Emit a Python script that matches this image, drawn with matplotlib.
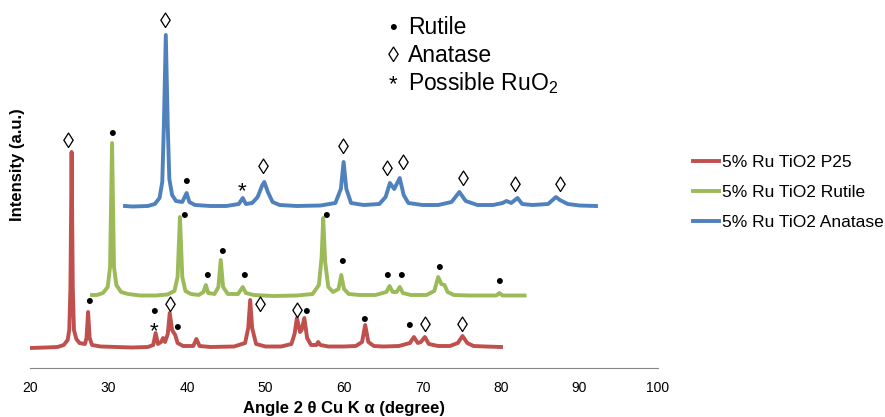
import matplotlib
matplotlib.use("Agg")
import matplotlib.pyplot as plt

plt.rcParams['font.family'] = ['Liberation Sans', 'DejaVu Sans']
plt.rcParams['mathtext.fontset'] = 'custom'
plt.rcParams['mathtext.rm'] = 'Liberation Sans'
plt.rcParams['mathtext.it'] = 'Liberation Sans'

# --- data (intensity above each trace's own baseline, a.u.) ---
p25_x = [20.0, 22.0, 23.5, 24.3, 24.8, 25.0, 25.15, 25.3, 25.45, 25.6, 25.9, 26.3, 27.0, 27.2,
         27.4, 27.6, 27.9, 29.0, 31.0, 33.0, 35.0, 35.7, 36.0, 36.3, 36.7, 36.95, 37.2, 37.55,
         37.8, 38.1, 38.5, 38.8, 39.5, 40.8, 41.2, 41.6, 43.0, 46.0, 47.4, 47.8, 48.05, 48.3,
         48.8, 50.0, 52.0, 53.3, 53.7, 54.0, 54.4, 54.6, 54.95, 55.3, 55.8, 56.5, 56.7, 57.0,
         58.0, 60.0, 61.5, 62.3, 62.7, 63.1, 63.8, 65.0, 67.0, 68.4, 68.9, 69.4, 69.8, 70.3,
         70.8, 72.0, 73.5, 74.5, 75.1, 75.7, 76.5, 78.0, 80.0]
p25_y = [0, 0.5, 1, 3, 8, 18, 60, 196, 60, 18, 9, 5, 4, 10,
         36, 10, 3, 1.5, 1, 0.5, 1, 3, 15, 4, 6, 10, 6, 14,
         35, 18, 13, 5, 2, 2, 9, 2, 1, 1.5, 5, 20, 48, 20,
         4, 1.5, 1.5, 4, 14, 30, 16, 18, 30, 10, 3, 3, 6, 3,
         1.5, 1.5, 2, 6, 23, 6, 2, 1.5, 2, 5, 11, 5, 6, 11,
         4, 2, 2, 5, 12, 5, 2, 1.5, 1]

rutile_x = [27.9, 28.5, 29.3, 29.9, 30.2, 30.45, 30.7, 31.0, 31.6, 32.5, 34.0, 36.0, 37.5,
            38.4, 38.8, 39.1, 39.4, 39.8, 40.5, 41.5, 42.1, 42.4, 42.7, 43.5, 44.0, 44.3,
            44.6, 45.2, 46.5, 47.1, 47.5, 48.5, 51.0, 54.0, 56.0, 56.8, 57.15, 57.35, 57.6,
            58.0, 58.6, 59.3, 59.65, 60.0, 60.6, 62.0, 64.0, 65.4, 65.8, 66.2, 66.7, 67.1,
            67.5, 68.5, 70.5, 71.5, 72.0, 72.4, 72.8, 73.2, 74.0, 76.0, 78.0, 79.4, 79.8,
            80.2, 82.0, 83.0]
rutile_y = [2, 2, 4, 10, 30, 154, 30, 12, 5, 3, 1.5, 1.5, 2.5,
            6, 20, 80, 20, 6, 3, 2, 5, 12, 4, 3, 10, 37,
            10, 3, 3, 10, 4, 2, 1, 1.5, 3, 12, 40, 79, 35,
            10, 5, 8, 22, 8, 3, 2, 2, 5, 11, 5, 5, 10,
            4, 2, 2, 6, 20, 13, 12, 5, 2, 1.5, 1.5, 1.5, 4,
            1.5, 1.5, 1.5]

anatase_x = [32.1, 33.0, 35.0, 35.9, 36.5, 36.85, 37.05, 37.3, 37.55, 37.75, 38.1, 38.6, 39.4,
             39.95, 40.3, 41.0, 43.0, 45.0, 46.6, 47.1, 47.5, 48.3, 49.0, 49.6, 49.85, 50.3,
             50.9, 51.8, 54.0, 57.0, 58.9, 59.6, 59.95, 60.3, 60.9, 62.5, 64.5, 65.3, 65.85,
             66.4, 67.1, 67.6, 68.2, 70.0, 72.0, 73.7, 74.7, 75.5, 77.0, 79.0, 80.2, 80.7,
             81.3, 82.1, 82.7, 84.0, 86.0, 87.0, 87.5, 88.5, 90.0, 92.1]
anatase_y = [1, 0.5, 1, 3, 9, 25, 80, 172, 80, 28, 12, 6, 5,
             14, 5, 2, 1, 1, 3, 9, 3, 4, 10, 22, 25, 15,
             5, 2, 1, 1.5, 4, 18, 45, 18, 4, 2, 3, 10, 24,
             18, 29, 12, 4, 2, 2, 5, 15, 6, 2, 2, 4, 6,
             4, 9, 3, 2, 3, 10, 7, 3, 1.5, 1]

labels = ['5% Ru TiO2 P25', '5% Ru TiO2 Rutile', '5% Ru TiO2 Anatase']
offsets = [20, 71, 161]
colors = ['#C0504D', '#9BBB59', '#4F81BD']

# peak annotations: (x, y, symbol)
marks = [
    (24.9, 226, '◊'), (27.55, 66, '•'), (35.83, 55, '•'), (35.83, 36, '*'),
    (37.87, 61, '◊'), (38.69, 40, '•'), (49.39, 61, '◊'), (54.1, 56, '◊'),
    (55.1, 56, '•'), (62.59, 48, '•'), (68.28, 41, '•'), (70.32, 41, '◊'),
    (75.07, 41, '◊'),
    (30.48, 234, '•'), (39.66, 152, '•'), (42.51, 91, '•'), (44.42, 115, '•'),
    (47.26, 92, '•'), (57.71, 152, '•'), (59.71, 106, '•'), (65.44, 92, '•'),
    (67.26, 91, '•'), (72.06, 100, '•'), (79.75, 85, '•'),
    (37.29, 346, '◊'), (39.83, 185, '•'), (47.04, 176, '*'), (49.72, 200, '◊'),
    (59.91, 220, '◊'), (65.57, 197, '◊'), (67.55, 203, '◊'), (75.2, 188, '◊'),
    (81.78, 181, '◊'), (87.52, 182, '◊'),
]

fig = plt.figure(figsize=(8.85, 4.17), dpi=100)
ax = fig.add_axes([30 / 885, 49 / 417, 628 / 885, 358 / 417])

series = [(p25_x, p25_y), (rutile_x, rutile_y), (anatase_x, anatase_y)]
for (xs, ys), off, c, lab in zip(series, offsets, colors, labels):
    ax.plot(xs, [v + off for v in ys], color=c, lw=2.8, label=lab, solid_joinstyle='round')

for x, y, s in marks:
    ax.text(x, y, s, ha='center', va='center', fontsize=16, color='black')

ax.set_xlim(20, 100)
ax.set_ylim(0, 358)
ax.set_xticks(range(20, 101, 10))
ax.set_yticks([])
for side in ['top', 'right', 'left']:
    ax.spines[side].set_visible(False)
ax.spines['bottom'].set_color('#868686')
ax.tick_params(axis='x', length=0, pad=9, labelsize=10)
ax.set_xlabel('Angle 2 θ Cu K α (degree)', fontsize=12, fontweight='bold', labelpad=5)
fig.text(18 / 885, 1 - 165 / 417, 'Intensity (a.u.)', rotation=90, ha='center', va='center',
         fontsize=12, fontweight='bold')

ax.legend(loc='upper left', bbox_to_anchor=(686 / 885, 1 - 148 / 417),
          bbox_transform=fig.transFigure, frameon=False, fontsize=12.5,
          handlelength=1.5, handletextpad=0.2, labelspacing=0.85, borderaxespad=0)

# key for the peak symbols (text baselines)
key = [(33.5, '•', 'Rutile'), (62, '◊', 'Anatase'), (90, '*', 'Possible RuO$_2$')]
for y, s, t in key:
    fig.text(393 / 885, 1 - y / 417, s, ha='center', va='baseline', fontsize=16)
    fig.text(408 / 885, 1 - y / 417, t, ha='left', va='baseline', fontsize=16.5)

fig.savefig('out.png', dpi=100)
